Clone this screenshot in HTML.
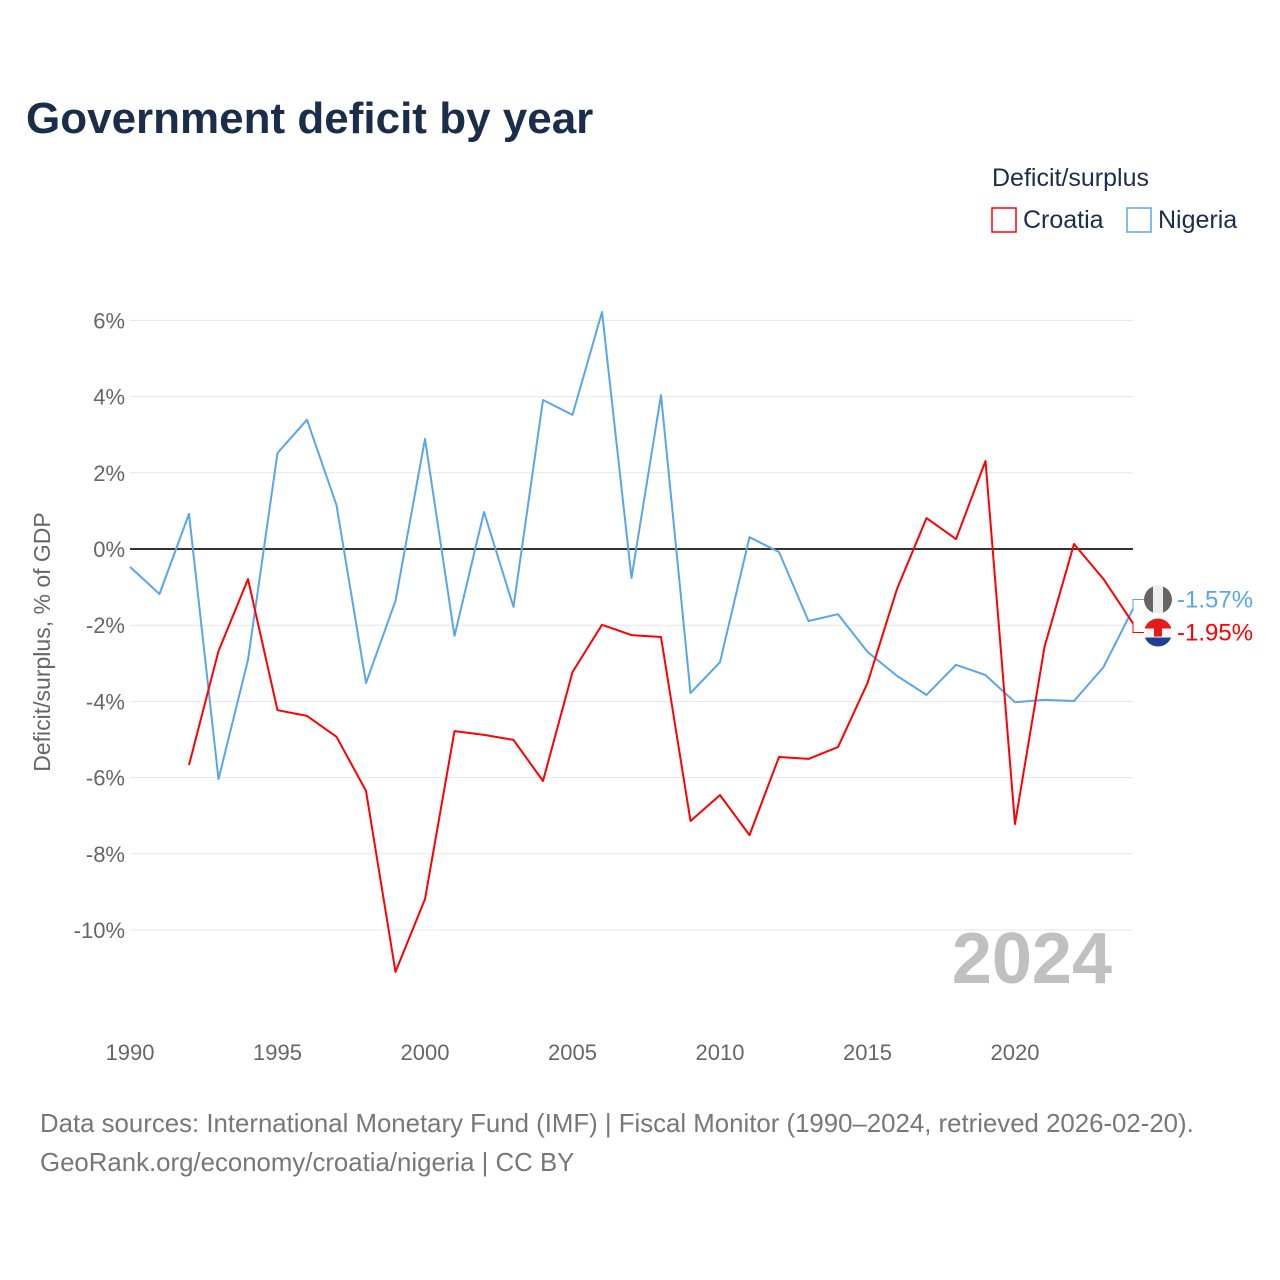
<!DOCTYPE html>
<html><head><meta charset="utf-8"><style>
body{margin:0;background:#fff;}
svg{display:block;font-family:"Liberation Sans",sans-serif;}
</style></head><body>
<svg id="chart" width="1280" height="1280" viewBox="0 0 1280 1280">
<text x="26" y="133" font-size="44" font-weight="bold" fill="#1a2e4c">Government deficit by year</text>
<text x="992" y="186" font-size="25" fill="#1a2e4c">Deficit/surplus</text>
<g><rect x="992" y="208" width="24" height="24" fill="none" stroke="#ff0000" stroke-width="1.5"/><text x="1023" y="228" font-size="25" fill="#1a2e4c">Croatia</text></g>
<g><rect x="1127" y="208" width="24" height="24" fill="none" stroke="#5aa5e8" stroke-width="1.5"/><text x="1158" y="228" font-size="25" fill="#1a2e4c">Nigeria</text></g>
<g id="grid"></g>
<g id="axes"></g>
<text x="1112" y="983" font-size="72" font-weight="bold" fill="#c0c0c0" text-anchor="end">2024</text>
<text transform="translate(50,642) rotate(-90)" font-size="23" fill="#666" text-anchor="middle">Deficit/surplus, % of GDP</text>
<g id="series"></g>
<g id="labels"></g>
<text x="40" y="1132" font-size="25.8" fill="#777">Data sources: International Monetary Fund (IMF) | Fiscal Monitor (1990–2024, retrieved 2026-02-20).</text>
<text x="40" y="1171" font-size="25.8" fill="#777">GeoRank.org/economy/croatia/nigeria | CC BY</text>
</svg>
<script>
const years = [];
for (let y = 1990; y <= 2024; y++) years.push(y);
const nigeria = [-0.47,-1.18,0.92,-6.04,-2.91,2.52,3.39,1.15,-3.52,-1.36,2.89,-2.28,0.97,-1.52,3.91,3.52,6.22,-0.76,4.04,-3.78,-2.97,0.31,-0.08,-1.89,-1.71,-2.70,-3.33,-3.83,-3.04,-3.31,-4.02,-3.96,-3.99,-3.10,-1.57];
const croatiaYears = [];
for (let y = 1992; y <= 2024; y++) croatiaYears.push(y);
const croatia = [-5.67,-2.68,-0.79,-4.23,-4.38,-4.93,-6.35,-11.10,-9.19,-4.78,-4.88,-5.01,-6.09,-3.23,-1.99,-2.26,-2.31,-7.14,-6.46,-7.51,-5.46,-5.51,-5.20,-3.52,-1.05,0.81,0.26,2.31,-7.22,-2.57,0.13,-0.79,-1.95];
const yTicks = [6,4,2,0,-2,-4,-6,-8,-10];
const xTicks = [1990,1995,2000,2005,2010,2015,2020];
const NS = "http://www.w3.org/2000/svg";
const xS = v => 130 + (v - 1990) * (1003 / 34);
const yS = v => 549 - v * 38.1;
function mk(tag, attrs, parent) {
  const e = document.createElementNS(NS, tag);
  for (const k in attrs) e.setAttribute(k, attrs[k]);
  parent.appendChild(e);
  return e;
}
const grid = document.getElementById('grid'), axes = document.getElementById('axes');
yTicks.forEach(t => {
  const l = mk('line', {x1:130, x2:1133, y1:yS(t), y2:yS(t), stroke: t===0?'#333':'#e6e6e6', 'stroke-width': t===0?2:1}, grid);
  
  
  const tx = mk('text', {x:125, y:yS(t)+8, 'font-size':22, fill:'#666', 'text-anchor':'end'}, axes);
  tx.textContent = t + '%';
  
  
});
xTicks.forEach(t => {
  const tx = mk('text', {x:xS(t), y:1060, 'font-size':22, fill:'#666', 'text-anchor':'middle'}, axes);
  tx.textContent = t;
  
  
});
const series = document.getElementById('series');
function path(xs, vs, color, name) {
  const d = vs.map((v,i) => (i?'L':'M') + xS(xs[i]).toFixed(1) + ',' + yS(v).toFixed(1)).join(' ');
  const p = mk('path', {d, fill:'none', stroke:color, 'stroke-width':2, 'stroke-linejoin':'round'}, series);
  
  
}
path(years, nigeria, '#5aa5e8', 'nigeria-line');
path(croatiaYears, croatia, '#ff0000', 'croatia-line');
const labels = document.getElementById('labels');
const nLast = nigeria[nigeria.length-1], cLast = croatia[croatia.length-1];
const mid = (yS(nLast) + yS(cLast)) / 2;
const nY = mid - 16.5, cY = mid + 16.5;
mk('path', {d:`M1133,${yS(nLast)} L1133,${nY} L1144,${nY}`, fill:'none', stroke:'#5aa5e8', 'stroke-width':1}, labels);
mk('path', {d:`M1133,${yS(cLast)} L1133,${cY} L1144,${cY}`, fill:'none', stroke:'#ff0000', 'stroke-width':1}, labels);
const ng = mk('g', {}, labels);


mk('circle', {cx:1158, cy:nY, r:14, fill:'#666'}, ng);
mk('rect', {x:1153, y:nY-14, width:10, height:28, fill:'#eee'}, ng);
const nt = mk('text', {x:1177, y:nY+8, 'font-size':24, fill:'#5aa5e8'}, labels);
nt.textContent = nLast.toFixed(2) + '%';


const hr = mk('g', {}, labels);


const cp = mk('clipPath', {id:'hrc'}, hr);
mk('circle', {cx:1158, cy:cY, r:14}, cp);
const hg = mk('g', {'clip-path':'url(#hrc)'}, hr);
mk('rect', {x:1144, y:cY-14, width:28, height:10, fill:'#e21b1b'}, hg);
mk('rect', {x:1144, y:cY-4, width:28, height:9, fill:'#f4f4f4'}, hg);
mk('rect', {x:1144, y:cY+5, width:28, height:10, fill:'#1d3f94'}, hg);
mk('rect', {x:1154, y:cY-5, width:8, height:9, fill:'#e21b1b'}, hg);
const ct = mk('text', {x:1177, y:cY+8, 'font-size':24, fill:'#ff0000'}, labels);
ct.textContent = cLast.toFixed(2) + '%';


</script>
</body></html>
